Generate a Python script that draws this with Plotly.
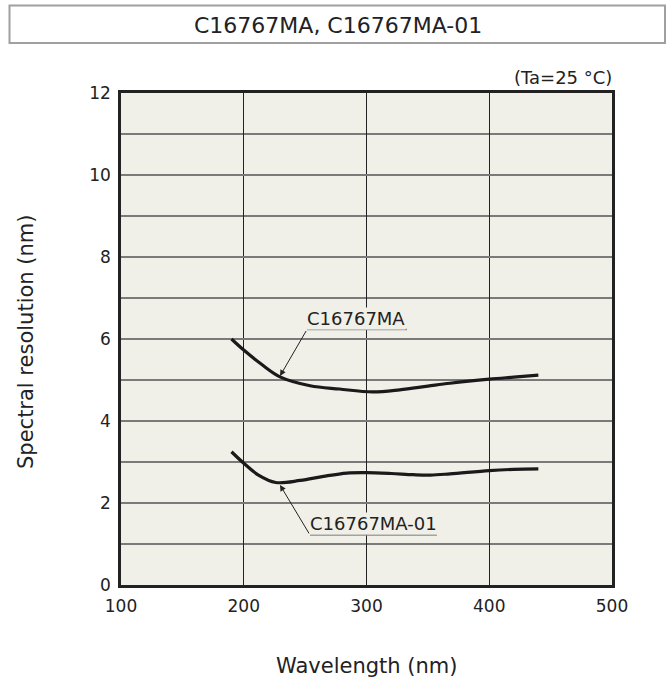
import plotly.graph_objects as go

# Data
wl_ma = [190, 200, 215, 230, 254, 278, 305, 327, 350, 368, 400, 420, 440]
res_ma = [6.0, 5.73, 5.37, 5.07, 4.86, 4.78, 4.71, 4.76, 4.85, 4.92, 5.02, 5.07, 5.12]
wl_01 = [190, 200, 212, 226, 246, 265, 284, 300, 320, 338, 352, 368, 400, 420, 440]
res_01 = [3.25, 2.97, 2.68, 2.50, 2.55, 2.65, 2.73, 2.74, 2.72, 2.69, 2.68, 2.71, 2.79, 2.82, 2.83]

x_ticks = [100, 200, 300, 400, 500]
y_ticks = [0, 2, 4, 6, 8, 10, 12]

title_text = "C16767MA, C16767MA-01"
cond_text = "(Ta=25 °C)"
xlabel = "Wavelength (nm)"
ylabel = "Spectral resolution (nm)"
label_ma = "C16767MA"
label_01 = "C16767MA-01"

FONT = "DejaVu Sans"
BG = "#f1f0e8"
INK = "#222"

W, H = 671, 684
L, R, T, B = 121, 59, 93, 99
pw, ph = W - L - R, H - T - B


def px(x):  # page pixel -> paper x
    return (x - L) / pw


def py(y):  # page pixel -> paper y
    return (H - B - y) / ph


def dy(y):  # page pixel -> data y
    return (H - B - y) / ph * 12


def dx(x):  # page pixel -> data x
    return 100 + (x - L) / pw * 400


fig = go.Figure()
fig.add_trace(go.Scatter(x=wl_ma, y=res_ma, mode="lines",
                         line=dict(color="#1a1a1a", width=3.2, shape="spline"), showlegend=False))
fig.add_trace(go.Scatter(x=wl_01, y=res_01, mode="lines",
                         line=dict(color="#1a1a1a", width=3.2, shape="spline"), showlegend=False))

fig.update_layout(
    width=W, height=H,
    margin=dict(l=L, r=R, t=T, b=B),
    paper_bgcolor="white", plot_bgcolor=BG,
    font=dict(family=FONT, color=INK, size=17),
    xaxis=dict(range=[100, 500], tickvals=x_ticks, ticktext=[str(v) for v in x_ticks],
               showgrid=True, gridcolor=INK, gridwidth=1, zeroline=False,
               showline=True, linecolor=INK, linewidth=2.5, mirror=True,
               ticks="", tickfont=dict(size=17), ticklabelstandoff=4),
    yaxis=dict(range=[0, 12], tickvals=y_ticks, ticktext=[str(v) for v in y_ticks],
               showgrid=True, gridcolor="#7a7a7a", gridwidth=1.6, zeroline=False,
               showline=True, linecolor=INK, linewidth=2.5, mirror=True,
               ticks="", tickfont=dict(size=17), ticklabelstandoff=4,
               minor=dict(dtick=1, showgrid=True, gridcolor="#7a7a7a", gridwidth=1.6)),
    shapes=[
        dict(type="rect", xref="paper", yref="paper", x0=px(9.5), x1=px(665), y0=py(43), y1=py(5.5),
             line=dict(color="#a0a0a0", width=2), fillcolor="rgba(0,0,0,0)"),
        dict(type="line", xref="x", yref="y", x0=dx(307), x1=dx(407), y0=dy(329.5), y1=dy(329.5),
             line=dict(color="#888", width=1.5)),
        dict(type="line", xref="x", yref="y", x0=dx(310), x1=dx(437), y0=dy(535), y1=dy(535),
             line=dict(color="#888", width=1.5)),
    ],
    annotations=[
        dict(text=title_text, xref="paper", yref="paper", x=px(338), y=py(25), showarrow=False,
             font=dict(size=22), xanchor="center", yanchor="middle"),
        dict(text=cond_text, xref="paper", yref="paper", x=px(614), y=py(77), showarrow=False,
             font=dict(size=18), xanchor="right", yanchor="middle"),
        dict(text=xlabel, xref="paper", yref="paper", x=px(366), y=py(666), showarrow=False,
             font=dict(size=21), xanchor="center", yanchor="middle"),
        dict(text=ylabel, xref="paper", yref="paper", x=px(26), y=py(342), showarrow=False,
             font=dict(size=21), xanchor="center", yanchor="middle", textangle=-90),
        dict(text="", x=dx(280), y=dy(376), ax=dx(307), ay=dy(329.5), axref="x", ayref="y",
             showarrow=True, arrowhead=2, arrowsize=1.2, arrowwidth=1, arrowcolor=INK, standoff=0),
        dict(text=label_ma, x=dx(356), y=dy(318), showarrow=False, font=dict(size=18),
             bgcolor=BG, xanchor="center", yanchor="middle", borderpad=0),
        dict(text="", x=dx(280), y=dy(485), ax=dx(310), ay=dy(535), axref="x", ayref="y",
             showarrow=True, arrowhead=2, arrowsize=1.2, arrowwidth=1, arrowcolor=INK, standoff=0),
        dict(text=label_01, x=dx(373), y=dy(523), showarrow=False, font=dict(size=18),
             bgcolor=BG, xanchor="center", yanchor="middle", borderpad=0),
    ],
)

fig.write_html("out.html", config={"displayModeBar": False},
               post_script="document.body.style.margin='0';document.body.style.overflow='hidden';")
